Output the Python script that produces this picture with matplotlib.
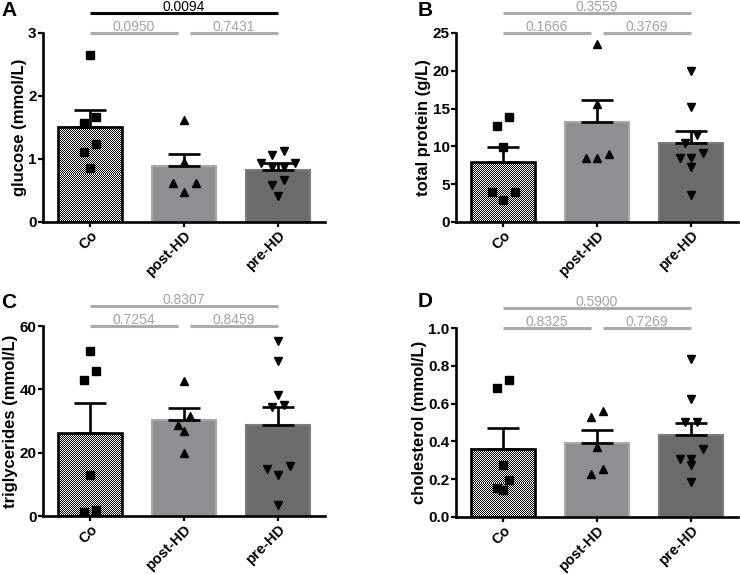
import matplotlib
matplotlib.use('Agg')
import matplotlib.pyplot as plt
import numpy as np

plt.rcParams['font.family'] = ['Liberation Sans', 'DejaVu Sans']
plt.rcParams['font.weight'] = 'bold'

groups = ['Co', 'post-HD', 'pre-HD']

# ---- A: glucose (mmol/L)
glucose_co = [2.65, 1.66, 1.57, 1.24, 1.11, 0.86]
glucose_post = [1.62, 0.96, 0.62, 0.62, 0.47]
glucose_pre = [1.12, 1.06, 0.94, 0.93, 0.88, 0.87, 0.67, 0.59, 0.42]
glucose_means = [1.51, 0.89, 0.83]
glucose_sems = [0.26, 0.19, 0.10]
glucose_p = ['0.0950', '0.7431', '0.0094']

# ---- B: total protein (g/L)
protein_co = [13.93, 12.74, 9.96, 3.97, 3.97, 2.87]
protein_post = [23.6, 15.6, 9.0, 8.5, 8.5]
protein_pre = [20.0, 15.2, 11.5, 10.4, 9.1, 8.4, 8.4, 7.3, 3.6]
protein_means = [7.9, 13.2, 10.4]
protein_sems = [2.0, 2.9, 1.6]
protein_p = ['0.1666', '0.3769', '0.3559']

# ---- C: triglycerides (mmol/L)
trig_co = [52.0, 45.9, 43.0, 12.8, 2.0, 1.3]
trig_post = [42.6, 31.5, 28.6, 26.8, 19.9]
trig_pre = [55.2, 49.0, 38.3, 35.0, 34.4, 15.7, 14.9, 13.0, 3.4]
trig_means = [26.2, 30.4, 28.6]
trig_sems = [9.6, 3.6, 5.7]
trig_p = ['0.7254', '0.8459', '0.8307']

# ---- D: cholesterol (mmol/L)
chol_co = [0.723, 0.683, 0.273, 0.194, 0.155, 0.141]
chol_post = [0.561, 0.529, 0.370, 0.252, 0.229]
chol_pre = [0.834, 0.623, 0.503, 0.503, 0.358, 0.309, 0.309, 0.277, 0.185]
chol_means = [0.361, 0.393, 0.432]
chol_sems = [0.110, 0.067, 0.067]
chol_p = ['0.8325', '0.7269', '0.5900']

panels = [
    dict(letter='A', ylabel='glucose (mmol/L)', ymax=3, yticks=[0, 1, 2, 3], fmt='{:.0f}',
         pts=[glucose_co, glucose_post, glucose_pre], means=glucose_means, sems=glucose_sems,
         p=glucose_p, top_black=True, rect=[43, 33, 325, 222], let_xy=(1, 1)),
    dict(letter='B', ylabel='total protein (g/L)', ymax=25, yticks=[0, 5, 10, 15, 20, 25], fmt='{:.0f}',
         pts=[protein_co, protein_post, protein_pre], means=protein_means, sems=protein_sems,
         p=protein_p, top_black=False, rect=[456, 33, 738, 222], let_xy=(418, 1)),
    dict(letter='C', ylabel='triglycerides (mmol/L)', ymax=60, yticks=[0, 20, 40, 60], fmt='{:.0f}',
         pts=[trig_co, trig_post, trig_pre], means=trig_means, sems=trig_sems,
         p=trig_p, top_black=False, rect=[43, 326, 325, 516], let_xy=(1, 293)),
    dict(letter='D', ylabel='cholesterol (mmol/L)', ymax=1.0, yticks=[0, 0.2, 0.4, 0.6, 0.8, 1.0], fmt='{:.1f}',
         pts=[chol_co, chol_post, chol_pre], means=chol_means, sems=chol_sems,
         p=chol_p, top_black=False, rect=[456, 328, 738, 517], let_xy=(418, 292)),
]

W, H = 740, 574
fig = plt.figure(figsize=(W / 100, H / 100), dpi=100)

bar_face = ['none', '#8f8f93', '#6b6b6b']
bar_edge = ['black', '#a9a9a9', '#7c7c7c']
bar_lw = [1.9, 1.5, 1.5]
markers = ['s', '^', 'v']
msizes = [5.2, 5.8, 5.8]
GRAY_T = '#a3a3a3'
GRAY_L = '#ababab'
BAR_W = 0.68


def swarm_offsets(vals, ax, h_px=9.6, s_px=11.5):
    vals = np.asarray(vals, dtype=float)
    t = ax.transData
    yppu = t.transform((0, 1))[1] - t.transform((0, 0))[1]
    xppu = t.transform((1, 0))[0] - t.transform((0, 0))[0]
    order = np.argsort(-vals, kind='stable')
    rows = []
    for i in order:
        if rows and (vals[rows[-1][0]] - vals[i]) * yppu < h_px:
            rows[-1].append(i)
        else:
            rows.append([i])
    offs = np.zeros(len(vals))
    for row in rows:
        k = len(row)
        slots = [(j - (k - 1) / 2) * s_px for j in range(k)]
        slots_sorted = sorted(slots, key=lambda s: (-abs(s), -s))
        for idx, sl in zip(row, slots_sorted):
            offs[idx] = sl / xppu
    return offs


def checker_fill(ax, xc, height):
    t = ax.transData
    x0, x1 = xc - BAR_W / 2, xc + BAR_W / 2
    p0 = t.transform((x0, 0))
    p1 = t.transform((x1, height))
    nc = max(2, int(round(p1[0] - p0[0])))
    nr = max(2, int(round(p1[1] - p0[1])))
    ii, jj = np.indices((nr, nc))
    img = ((ii + jj) % 2).astype(float)
    ax.imshow(img, cmap='gray', vmin=0, vmax=1, extent=(x0, x1, 0, height),
              interpolation='nearest', aspect='auto', zorder=0.9)


for P in panels:
    l, t_, r, b = P['rect']
    ax = fig.add_axes([l / W, 1 - b / H, (r - l) / W, (b - t_) / H])
    ax.set_xlim(-0.5, 2.5)
    ax.set_ylim(0, P['ymax'])
    x = np.arange(3)
    checker_fill(ax, x[0], P['means'][0])
    bars = ax.bar(x, P['means'], width=BAR_W, zorder=1)
    for i, bar in enumerate(bars):
        bar.set_facecolor(bar_face[i])
        bar.set_edgecolor(bar_edge[i])
        bar.set_linewidth(bar_lw[i])
    ax.set_xlim(-0.5, 2.5)
    ax.set_ylim(0, P['ymax'])
    ax.errorbar(x, P['means'], yerr=[np.zeros(3), P['sems']], fmt='none', ecolor='black',
                elinewidth=1.9, capsize=11.5, capthick=1.9, zorder=3)
    for i in range(3):
        v = np.asarray(P['pts'][i])
        offs = swarm_offsets(v, ax)
        ax.plot(x[i] + offs, v, linestyle='none', marker=markers[i], ms=msizes[i],
                color='black', zorder=4, clip_on=False)

    for side in ['top', 'right']:
        ax.spines[side].set_visible(False)
    for side in ['left', 'bottom']:
        ax.spines[side].set_linewidth(1.9)
    ax.set_yticks(P['yticks'])
    ax.set_yticklabels([P['fmt'].format(v) for v in P['yticks']])
    ax.set_xticks(x)
    ax.set_xticklabels(groups, rotation=45, ha='right', rotation_mode='anchor')
    ax.tick_params(axis='both', direction='out', length=3.6, width=1.6, pad=1)
    ax.tick_params(axis='y', labelsize=11)
    ax.tick_params(axis='x', labelsize=10.5)
    ax.set_ylabel(P['ylabel'], fontsize=12, fontweight='bold', labelpad=1)

    tr = ax.get_xaxis_transform()
    lower, upper = 1.0, 1.105
    pairs = [(0, 1 - 0.06, P['p'][0], lower), (1 + 0.06, 2, P['p'][1], lower), (0, 2, P['p'][2], upper)]
    for k, (x0, x1, txt, yy) in enumerate(pairs):
        black = (k == 2 and P['top_black'])
        lc = 'black' if black else GRAY_L
        tc = 'black' if black else GRAY_T
        ax.plot([x0, x1], [yy, yy], color=lc, lw=2.2, transform=tr, clip_on=False,
                solid_capstyle='butt')
        ax.annotate(txt, xy=((x0 + x1) / 2, yy), xycoords=tr, xytext=(0, 1.6),
                    textcoords='offset points', ha='center', va='baseline', color=tc,
                    fontsize=10, fontweight='normal', annotation_clip=False)

    lx, ly = P['let_xy']
    fig.text(lx / W, 1 - ly / H, P['letter'], fontsize=15, fontweight='bold', ha='left', va='top')

fig.savefig('out.png', dpi=100)
